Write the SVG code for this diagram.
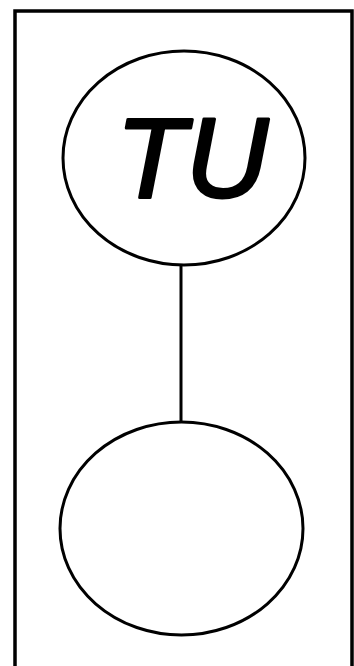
<svg xmlns="http://www.w3.org/2000/svg" width="354" height="666" viewBox="0 0 354 666">
<style>
.node{fill:#fff;stroke:#000;stroke-width:3}
.edge{stroke:#000;stroke-width:3;fill:none}
.lbl{font-family:"Liberation Sans",Arial,sans-serif;font-style:italic;font-size:114px;fill:#000;stroke:#000;stroke-width:3;stroke-linejoin:round}
</style>
<rect x="0" y="0" width="354" height="666" fill="#fff"/>
<rect x="15" y="11" width="337" height="680" fill="none" stroke="#000" stroke-width="3.5"/>
<g id="connectors">
<line class="edge" x1="181" y1="265" x2="181" y2="422"/>
</g>
<g id="node-tu">
<ellipse class="node" cx="184" cy="158" rx="121" ry="107"/>
<text class="lbl" x="192" y="197" text-anchor="middle">TU</text>
</g>
<g id="node-empty">
<ellipse class="node" cx="181.5" cy="528.5" rx="121.5" ry="106.5"/>
</g>
</svg>
